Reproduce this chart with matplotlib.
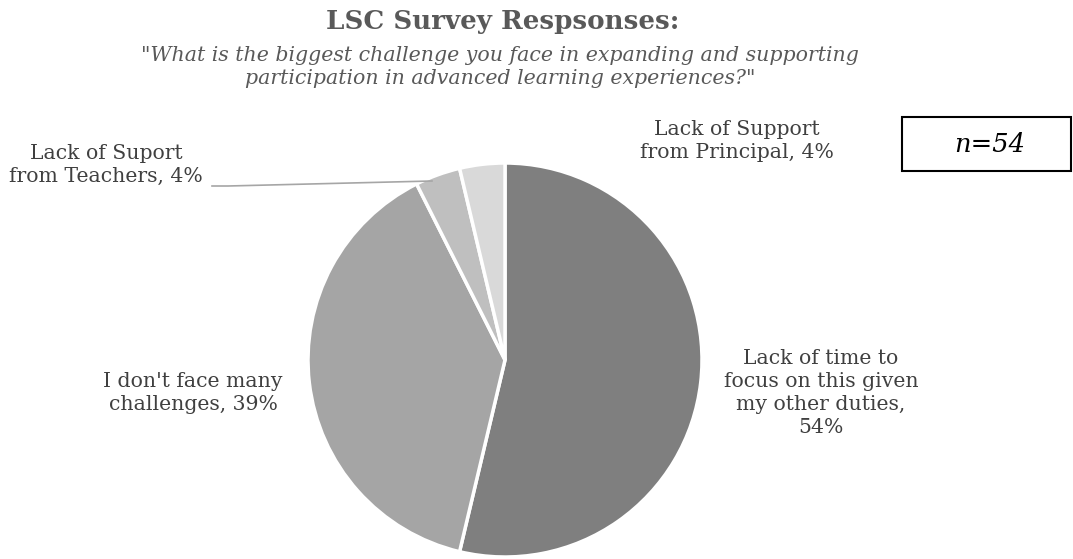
import matplotlib
matplotlib.use("Agg")
import matplotlib.pyplot as plt
from matplotlib.patches import Rectangle

# Survey responses (n = 54)
labels = ["Lack of time to\nfocus on this given\nmy other duties,",
          "I don't face many\nchallenges,",
          "Lack of Suport\nfrom Teachers,",
          "Lack of Support\nfrom Principal,"]
counts = [29, 21, 2, 2]
colors = ["#7f7f7f", "#a5a5a5", "#bfbfbf", "#d9d9d9"]
n_total = sum(counts)

W, H = 1073, 559
fig = plt.figure(figsize=(W / 100, H / 100), dpi=100)
ax = fig.add_axes([0, 0, 1, 1])

serif = ["DejaVu Serif"]
txt = "#404040"

ax.pie(counts, colors=colors, startangle=90, counterclock=False,
       center=(505, H - 360), radius=197, frame=True,
       wedgeprops=dict(edgecolor="white", linewidth=2.5))
ax.set_xlim(0, W)
ax.set_ylim(0, H)
ax.set_aspect("equal")
ax.axis("off")

pct = [round(100 * c / n_total) for c in counts]
label_pos = [(821, 393), (193, 393), (106, 165), (737, 141)]
for lab, p, (x, y) in zip(labels, pct, label_pos):
    if lab.endswith("duties,"):
        s = f"{lab}\n{p}%"
    else:
        s = f"{lab} {p}%"
    ax.text(x, H - y, s, ha="center", va="center", fontsize=14.7,
            family=serif, color=txt, linespacing=1.28)

# leader line for the small Teachers slice
ax.plot([212, 228, 432], [H - 186, H - 186, H - 181], color="#a6a6a6", lw=1.2)

# title and subtitle
fig.text(503 / W, 1 - 21 / H, "LSC Survey Respsonses:", ha="center", va="center",
         fontsize=18.8, fontweight="bold", family=serif, color="#595959")
fig.text(500 / W, 1 - 67 / H,
         "\"What is the biggest challenge you face in expanding and supporting\n"
         "participation in advanced learning experiences?\"",
         ha="center", va="center", fontsize=14.8, style="italic", family=serif,
         color="#595959", linespacing=1.25)

# sample size box
ax.add_patch(Rectangle((902, H - 171), 169, 54, facecolor="white",
                       edgecolor="black", lw=1.5))
ax.text(990, H - 145, f"n={n_total}", ha="center", va="center", fontsize=18.5,
        style="italic", family=serif, color="black")

fig.savefig("out.png", dpi=100)
